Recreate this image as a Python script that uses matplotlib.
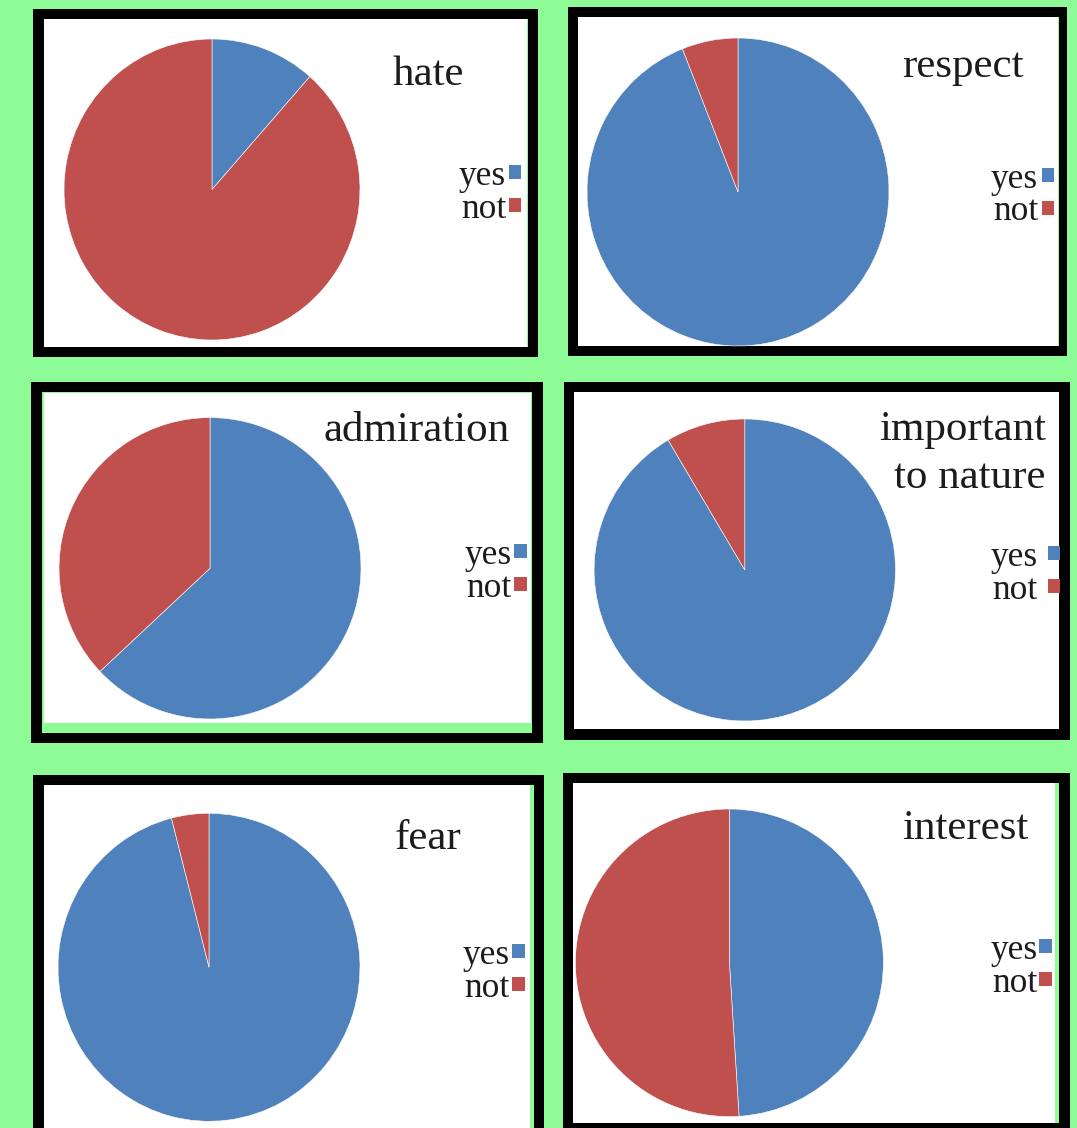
import matplotlib.pyplot as plt
from matplotlib.patches import Rectangle

W, H = 1077, 1128

# data
titles = ['hate', 'respect', 'admiration', 'important\nto nature', 'fear', 'interest']
labels = ['yes', 'not']
yes_pct = [11.5, 94, 63, 91.5, 96, 49]
not_pct = [88.5, 6, 37, 8.5, 4, 51]
colors = ['#4f81bd', '#c0504d']

# layout in pixels (x0, y0, x1, y1), top-left origin
frames = [(33, 9, 538, 357), (568, 7, 1067, 356), (31, 382, 543, 743),
          (564, 382, 1070, 740), (33, 775, 544, 1140), (563, 773, 1070, 1140)]
inner = [(43.5, 19, 528, 347), (578, 17, 1058.5, 346), (42, 392, 532, 733),
         (574, 392, 1059, 729), (43.5, 785, 534, 1140), (573, 783, 1059, 1123)]
whites = [(43.5, 19, 527, 347), (578, 17, 1058, 346), (43.5, 393, 531, 723),
          (574, 392, 1059, 729), (43.5, 785, 530, 1128), (573, 783, 1055, 1123)]
# pie centre and radii
pies = [(212, 189.5, 148, 150.5), (738, 192, 151, 154), (210, 568.3, 151, 150.7),
        (744.8, 570, 150.7, 151), (209, 967.3, 151, 154), (729.4, 962.8, 154, 153.8)]
# title: (x, baseline y, ha)
title_pos = [(428, 85, 'center'), (963, 77, 'center'), (417, 440.7, 'center'),
             (1046, 440, 'right'), (428.5, 849, 'center'), (965, 839, 'center')]
# legend: (right edge x, middle y, text pad)
legend_pos = [(521.4, 193, 0.07), (1054.4, 195.5, 0.1), (526.8, 572, 0.07),
              (1060.3, 574, 0.28), (525, 972, 0.07), (1052, 967, 0.04)]

serif = 'Liberation Serif'
text_color = '#1c1c1c'


def fx(x):
    return x / W


def fy(y):
    return 1 - y / H


def add_rect(fig, box, color, z):
    x0, y0, x1, y1 = box
    fig.patches.append(Rectangle((fx(x0), fy(y1)), (x1 - x0) / W, (y1 - y0) / H,
                                 transform=fig.transFigure, facecolor=color,
                                 edgecolor='none', zorder=z))


fig = plt.figure(figsize=(W / 100, H / 100), dpi=100)
fig.patch.set_facecolor('#8efc96')

for i in range(6):
    add_rect(fig, frames[i], 'black', -3)
    add_rect(fig, inner[i], '#8efc96', -2)
    add_rect(fig, whites[i], 'white', -1)

    cx, cy, rx, ry = pies[i]
    ax = fig.add_axes([fx(cx - rx), fy(cy + ry), 2 * rx / W, 2 * ry / H])
    wedges, _ = ax.pie([yes_pct[i], not_pct[i]], colors=colors, startangle=90,
                       counterclock=False, radius=1,
                       wedgeprops=dict(edgecolor='white', linewidth=0.4))
    ax.set_aspect('auto')
    ax.set_xlim(-1, 1)
    ax.set_ylim(-1, 1)
    ax.axis('off')

    tx, ty, ha = title_pos[i]
    for k, line in enumerate(titles[i].split('\n')):
        fig.text(fx(tx), fy(ty + k * 48), line, ha=ha, va='baseline',
                 fontsize=31, family=serif, color=text_color)

    lx, ly, pad = legend_pos[i]
    leg = fig.legend(wedges, labels, loc='center right',
                     bbox_to_anchor=(fx(lx), fy(ly)), bbox_transform=fig.transFigure,
                     frameon=False, borderpad=0, borderaxespad=0,
                     handlelength=0.36, handleheight=0.22, handletextpad=pad,
                     labelspacing=0.0, markerfirst=False,
                     prop={'family': serif, 'size': 25.5}, labelcolor=text_color)
    for h in leg.legend_handles:
        h.set_edgecolor('none')

fig.savefig('out.png', dpi=100, facecolor=fig.get_facecolor())
